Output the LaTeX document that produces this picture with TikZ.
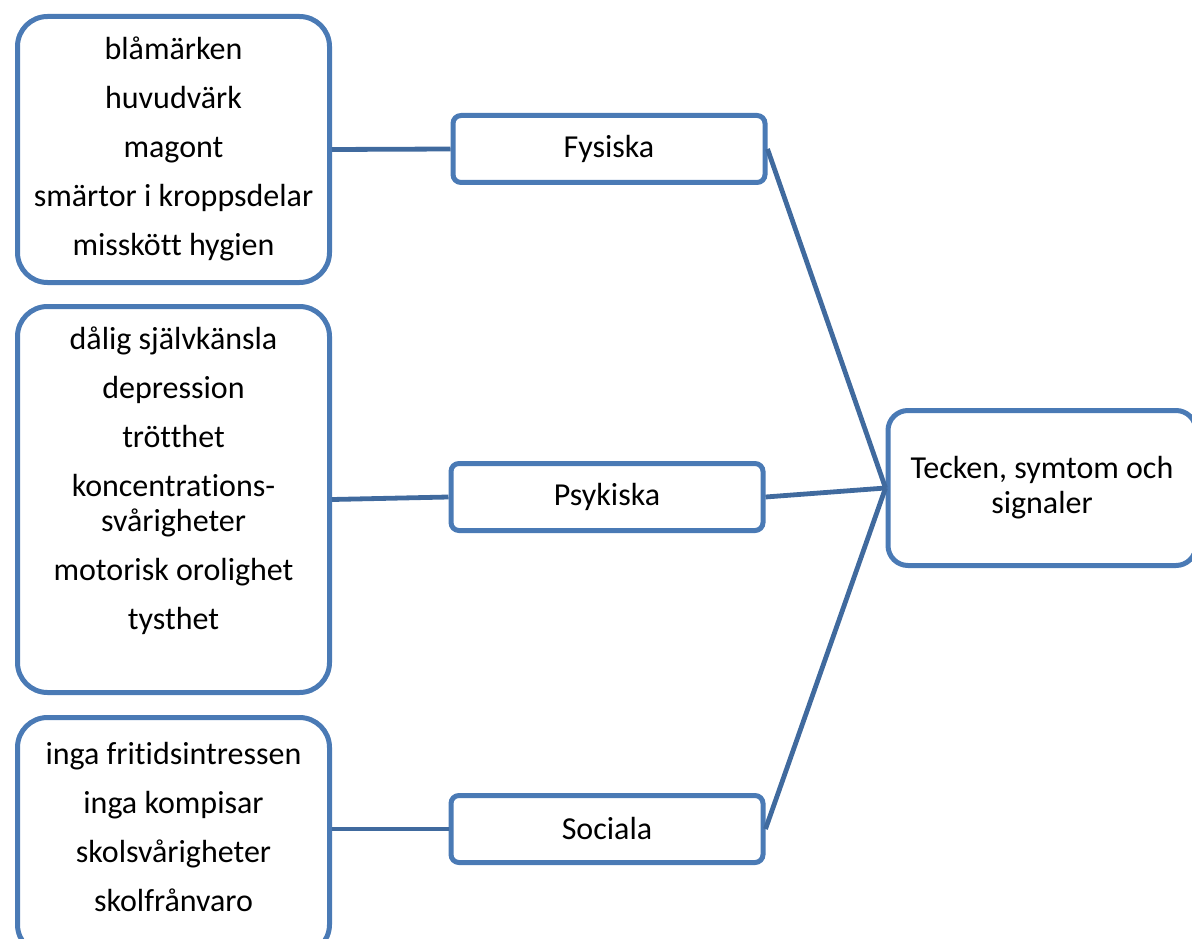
\documentclass[tikz,border=0pt]{standalone}
\usepackage{fontspec}
\setmainfont{Carlito}[Ligatures=NoCommon]
\usepackage{tikz}
\usetikzlibrary{positioning}
\definecolor{kant}{RGB}{74,122,181}
\definecolor{linje}{RGB}{64,106,158}
\tikzset{ruta/.style={draw=kant,line width=5pt,rounded corners=30pt,minimum width=312pt,anchor=north west}}
\tikzset{txt/.style={align=center,inner sep=0pt,font=\fontsize{32}{35}\selectfont}}
\tikzset{grupp/.style={draw=kant,line width=5pt,rounded corners=8pt,minimum width=312pt,minimum height=67pt,font=\fontsize{32}{35}\selectfont}}
\tikzset{huvud/.style={draw=kant,line width=5pt,rounded corners=20pt,minimum width=308pt,minimum height=155pt,align=center,font=\fontsize{32}{35}\selectfont}}
\tikzset{lank/.style={draw=linje,line width=4.8pt}}

\begin{document}
\begin{tikzpicture}[x=1pt,y=-1pt]
        \useasboundingbox (0,0) rectangle (1192,939);

        \node[ruta,minimum height=266pt] (fyslista) at (15,14) {};
        \node[ruta,minimum height=386pt] (psyklista) at (15,304) {};
        \node[ruta,minimum height=237pt] (soclista) at (15,715) {};

        \node[txt,below=23pt of fyslista.north] (fystext) {blåmärken\\[14pt]huvudvärk\\[14pt]magont\\[14pt]smärtor i kroppsdelar\\[14pt]misskött hygien};
        \node[txt,below=23pt of psyklista.north] (psyktext) {dålig självkänsla\\[14pt]depression\\[14pt]trötthet\\[14pt]koncentrations-\\svårigheter\\[14pt]motorisk orolighet\\[14pt]tysthet};
        \node[txt,below=27pt of soclista.north] (soctext) {inga fritidsintressen\\[14pt]inga kompisar\\[14pt]skolsvårigheter\\[14pt]skolfrånvaro};

        \node[grupp] (fysiska) at (609,149) {Fysiska};
        \node[grupp] (psykiska) at (607,497) {Psykiska};
        \node[grupp] (sociala) at (607,829) {Sociala};

        \node[huvud] (tecken) at (1042,488) {Tecken, symtom och\\signaler};

        \draw [lank] (fyslista.east) to (fysiska.west);
        \draw [lank] (psyklista.east) to (psykiska.west);
        \draw [lank] (soclista.east |- sociala.west) to (sociala.west);

        \draw [lank] (fysiska.east) to (tecken.west);
        \draw [lank] (psykiska.east) to (tecken.west);
        \draw [lank] (sociala.east) to (tecken.west);
    \end{tikzpicture}
\end{document}
